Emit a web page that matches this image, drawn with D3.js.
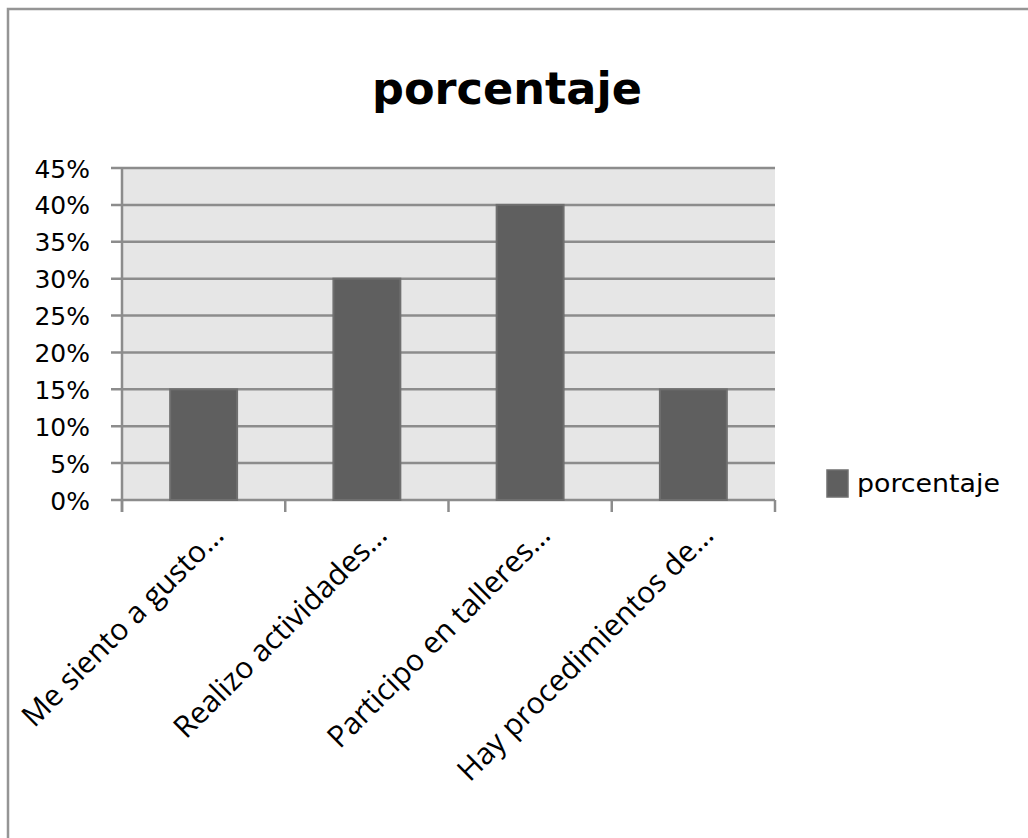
<!DOCTYPE html>
<html>
<head>
<meta charset="utf-8">
<script src="https://cdn.jsdelivr.net/npm/d3@7"></script>
<style>
  body { margin: 0; background: #fff; }
  svg { display: block; }
</style>
</head>
<body>
<div id="chart"></div>
<script>
// data
var categories = ["Me siento a gusto…", "Realizo actividades…", "Participo en talleres…", "Hay procedimientos de…"];
var values = [0.15, 0.30, 0.40, 0.15];
var yTicks = [0, 0.05, 0.10, 0.15, 0.20, 0.25, 0.30, 0.35, 0.40, 0.45];
var seriesName = "porcentaje";

var W = 1028, H = 838;
var margin = {top: 168, left: 122, right: 253, bottom: 338};
var width = W - margin.left - margin.right,
    height = H - margin.top - margin.bottom;

var svg = d3.select("#chart")
  .append("svg")
    .attr("width", W)
    .attr("height", H);

// outer frame (top and left edges visible)
svg.append("path")
  .attr("d", "M8,838 L8,9 L1028,9")
  .attr("fill", "none")
  .attr("stroke", "#959595")
  .attr("stroke-width", 2.5);

// title
svg.append("text")
  .attr("x", 507)
  .attr("y", 104)
  .attr("text-anchor", "middle")
  .style("font-family", "DejaVu Sans")
  .style("font-weight", "bold")
  .style("font-size", "44px")
  .attr("textLength", 270)
  .attr("lengthAdjust", "spacingAndGlyphs")
  .text(seriesName);

var g = svg.append("g")
  .attr("transform", "translate(" + margin.left + "," + margin.top + ")");

var x = d3.scaleBand()
  .domain(categories)
  .range([0, width])
  .padding(0);

var y = d3.scaleLinear()
  .domain([0, 0.45])
  .range([height, 0]);

// plot background
g.append("rect")
  .attr("width", width)
  .attr("height", height)
  .attr("fill", "#e6e6e6");

// gridlines
g.selectAll(".grid")
  .data(yTicks)
  .enter()
  .append("line")
    .attr("x1", -11)
    .attr("x2", width)
    .attr("y1", function(d) { return y(d); })
    .attr("y2", function(d) { return y(d); })
    .attr("stroke", "#8c8c8c")
    .attr("stroke-width", 2.5);

// bars
var barW = x.bandwidth() * 0.41;
g.selectAll(".bar")
  .data(values)
  .enter()
  .append("rect")
    .attr("x", function(d, i) { return x(categories[i]) + (x.bandwidth() - barW) / 2; })
    .attr("y", function(d) { return y(d); })
    .attr("width", barW)
    .attr("height", function(d) { return height - y(d); })
    .attr("fill", "#5f5f5f")
    .attr("stroke", "#6f6f6f")
    .attr("stroke-width", 2);

// y axis
var yAxis = g.append("g")
  .call(d3.axisLeft(y).tickValues(yTicks).tickFormat(d3.format(".0%")).tickSize(0).tickPadding(32));
yAxis.select(".domain").remove();
yAxis.selectAll("text")
  .style("font-family", "DejaVu Sans")
  .style("font-size", "25px")
  .attr("fill", "#000")
  .attr("dy", "0.36em");
g.append("line")
  .attr("x1", 0).attr("x2", 0)
  .attr("y1", 0).attr("y2", height + 12)
  .attr("stroke", "#8c8c8c")
  .attr("stroke-width", 2.5);

// x axis ticks at band edges
var edges = categories.map(function(c) { return x(c); }).concat([width]);
g.selectAll(".xtick")
  .data(edges)
  .enter()
  .append("line")
    .attr("x1", function(d) { return d; })
    .attr("x2", function(d) { return d; })
    .attr("y1", height)
    .attr("y2", height + 12)
    .attr("stroke", "#8c8c8c")
    .attr("stroke-width", 2.5);

// x labels rotated
g.selectAll(".xlabel")
  .data(categories)
  .enter()
  .append("text")
    .attr("transform", function(d) {
      return "translate(" + (x(d) + x.bandwidth() / 2 + 22) + "," + (height + 37) + ") rotate(-45)";
    })
    .attr("text-anchor", "end")
    .style("font-family", "Open Sans")
    .style("font-size", "30px")
    .attr("fill", "#000")
    .text(function(d) { return d; });

// legend
var legend = svg.append("g").attr("transform", "translate(827,470)");
legend.append("rect")
  .attr("width", 21)
  .attr("height", 27)
  .attr("fill", "#5f5f5f")
  .attr("stroke", "#6f6f6f")
  .attr("stroke-width", 1.5);
legend.append("text")
  .attr("x", 30)
  .attr("y", 22)
  .style("font-family", "DejaVu Sans")
  .style("font-size", "24px")
  .attr("textLength", 143)
  .attr("lengthAdjust", "spacingAndGlyphs")
  .text(seriesName);
</script>
</body>
</html>
